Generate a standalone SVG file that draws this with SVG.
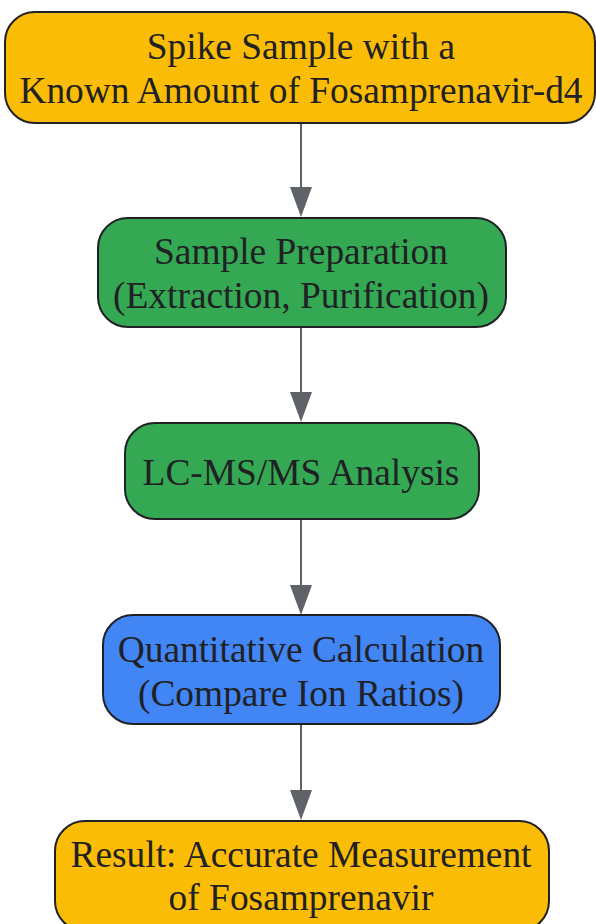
<svg xmlns="http://www.w3.org/2000/svg" width="596" height="924" viewBox="0 0 596 924">
<style>
.n rect{stroke:#202124;stroke-width:2}
.n text{font-family:"Liberation Serif","Times New Roman",serif;font-size:37.4px;fill:#202124;text-anchor:middle}
.y rect{fill:#FBBC05}
.g rect{fill:#34A853}
.b rect{fill:#4285F4}
.c line{stroke:#5F6368;stroke-width:2}
.c polygon{fill:#5F6368}
</style>
<rect width="596" height="924" fill="#ffffff"/>
<g id="connectors" class="c">
<line x1="301" y1="123" x2="301" y2="190"/>
<polygon points="290,187 312,187 301,217"/>
<line x1="301" y1="327" x2="301" y2="395"/>
<polygon points="290,392 312,392 301,422"/>
<line x1="301" y1="519" x2="301" y2="588"/>
<polygon points="290,585 312,585 301,615"/>
<line x1="301" y1="724" x2="301" y2="792"/>
<polygon points="290,790 312,790 301,820"/>
</g>
<g id="node1" class="n y">
<rect x="5" y="12" width="590" height="111" rx="30" ry="30"/>
<text x="301" y="59">Spike Sample with a</text>
<text x="301" y="103">Known Amount of Fosamprenavir-d4</text>
</g>
<g id="node2" class="n g">
<rect x="98" y="218" width="408" height="109" rx="30" ry="30"/>
<text x="301" y="264">Sample Preparation</text>
<text x="301" y="308">(Extraction, Purification)</text>
</g>
<g id="node3" class="n g">
<rect x="125" y="423" width="354" height="96" rx="30" ry="30"/>
<text x="301" y="485">LC-MS/MS Analysis</text>
</g>
<g id="node4" class="n b">
<rect x="103" y="615" width="397" height="109" rx="30" ry="30"/>
<text x="301" y="662">Quantitative Calculation</text>
<text x="301" y="706">(Compare Ion Ratios)</text>
</g>
<g id="node5" class="n y">
<rect x="55" y="821" width="494" height="110" rx="30" ry="30"/>
<text x="301" y="867">Result: Accurate Measurement</text>
<text x="301" y="910">of Fosamprenavir</text>
</g>
</svg>
